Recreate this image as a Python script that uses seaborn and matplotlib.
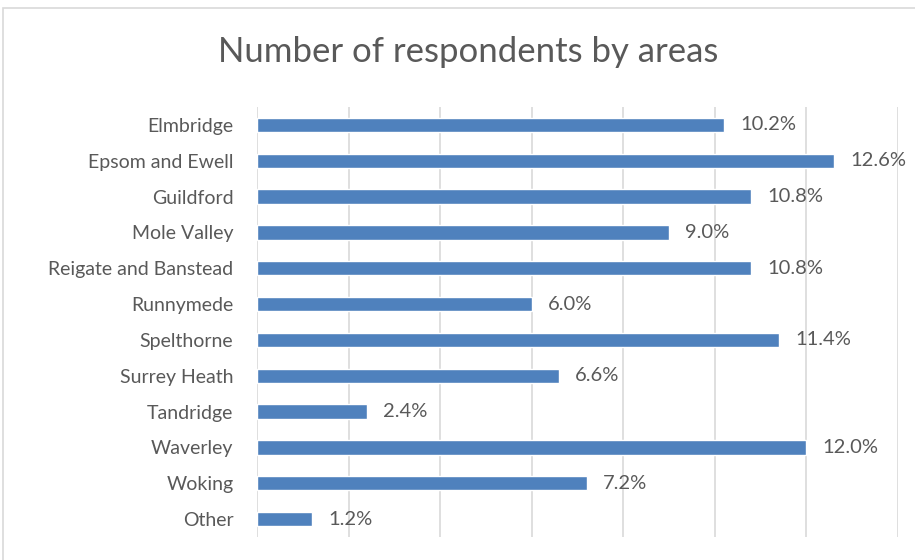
import numpy as np
import pandas as pd
import seaborn as sns
import matplotlib.pyplot as plt
from matplotlib.patches import Rectangle

areas = ['Elmbridge', 'Epsom and Ewell', 'Guildford', 'Mole Valley',
         'Reigate and Banstead', 'Runnymede', 'Spelthorne', 'Surrey Heath',
         'Tandridge', 'Waverley', 'Woking', 'Other']
share = [10.2, 12.6, 10.8, 9.0, 10.8, 6.0, 11.4, 6.6, 2.4, 12.0, 7.2, 1.2]

df = pd.DataFrame({'area': areas, 'share': share})

sns.set_style('white')
plt.rcParams['font.family'] = ['Lato', 'DejaVu Sans']
txt = '#595959'

fig = plt.figure(figsize=(9.15, 5.6), dpi=100)
ax = fig.add_axes([257/915, 1-537/560, (898-257)/915, (537-107)/560])

# outer chart frame
fig.patches.append(Rectangle((3/915, -0.1), 1.2, 1 - 8/560 + 0.1, transform=fig.transFigure,
                             fill=False, edgecolor='#d9d9d9', linewidth=1.2))

sns.barplot(data=df, y='area', x='share', color='#4f81bd', saturation=1,
            width=0.4, ax=ax, orient='h')

for i, v in enumerate(share):
    ax.text(v + 0.35, i, f'{v:.1f}%', va='center', ha='left', fontsize=14.5, color=txt)

ax.set_xlim(0, 14)
ax.set_ylim(11.5, -0.5)
ax.set_xticks(np.arange(0, 15, 2))
ax.set_xticklabels([])
ax.tick_params(axis='x', length=0)
ax.tick_params(axis='y', length=0, labelsize=14, labelcolor=txt, pad=17)
ax.grid(True, axis='x', color='#d9d9d9', linewidth=1.2)
ax.set_axisbelow(True)
for s in ax.spines.values():
    s.set_visible(False)
ax.set_xlabel(None)
ax.set_ylabel(None)

fig.text(468/915, 1-52/560, 'Number of respondents by areas', ha='center', va='center',
         fontsize=25, color=txt)

fig.savefig('out.png', dpi=100)
